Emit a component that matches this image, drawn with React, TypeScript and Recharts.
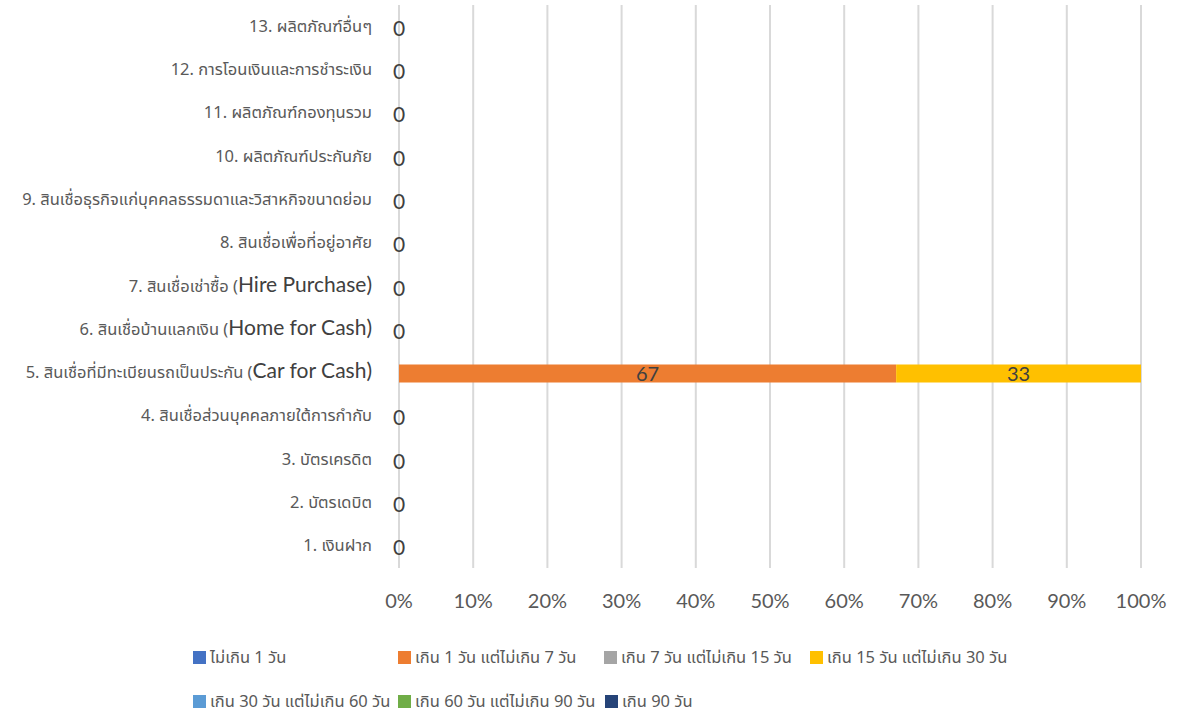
import { BarChart, Bar, XAxis, YAxis, CartesianGrid, LabelList } from 'recharts';

// categories, bottom (1) to top (13)
const CATEGORIES = [
  '1. เงินฝาก',
  '2. บัตรเดบิต',
  '3. บัตรเครดิต',
  '4. สินเชื่อส่วนบุคคลภายใต้การกำกับ',
  '5. สินเชื่อที่มีทะเบียนรถเป็นประกัน (Car for Cash)',
  '6. สินเชื่อบ้านแลกเงิน (Home for Cash)',
  '7. สินเชื่อเช่าซื้อ (Hire Purchase)',
  '8. สินเชื่อเพื่อที่อยู่อาศัย',
  '9. สินเชื่อธุรกิจแก่บุคคลธรรมดาและวิสาหกิจขนาดย่อม',
  '10. ผลิตภัณฑ์ประกันภัย',
  '11. ผลิตภัณฑ์กองทุนรวม',
  '12. การโอนเงินและการชำระเงิน',
  '13. ผลิตภัณฑ์อื่นๆ',
];

const SERIES_NAMES = [
  'ไม่เกิน 1 วัน',
  'เกิน 1 วัน แต่ไม่เกิน 7 วัน',
  'เกิน 7 วัน แต่ไม่เกิน 15 วัน',
  'เกิน 15 วัน แต่ไม่เกิน 30 วัน',
  'เกิน 30 วัน แต่ไม่เกิน 60 วัน',
  'เกิน 60 วัน แต่ไม่เกิน 90 วัน',
  'เกิน 90 วัน',
];

const S1 = [0, 0, 0, 0, 0, 0, 0, 0, 0, 0, 0, 0, 0];
const S2 = [0, 0, 0, 0, 67, 0, 0, 0, 0, 0, 0, 0, 0];
const S3 = [0, 0, 0, 0, 0, 0, 0, 0, 0, 0, 0, 0, 0];
const S4 = [0, 0, 0, 0, 33, 0, 0, 0, 0, 0, 0, 0, 0];
const S5 = [0, 0, 0, 0, 0, 0, 0, 0, 0, 0, 0, 0, 0];
const S6 = [0, 0, 0, 0, 0, 0, 0, 0, 0, 0, 0, 0, 0];
const S7 = [0, 0, 0, 0, 0, 0, 0, 0, 0, 0, 0, 0, 0];

const SERIES_VALUES = [S1, S2, S3, S4, S5, S6, S7];
const COLORS = ['#4472c4', '#ed7d31', '#a5a5a5', '#ffc000', '#5b9bd5', '#70ad47', '#264478'];
const X_TICKS = [0, 0.1, 0.2, 0.3, 0.4, 0.5, 0.6, 0.7, 0.8, 0.9, 1];

const data = CATEGORIES.map((name, i) => {
  const row: Record<string, any> = { name };
  SERIES_VALUES.forEach((vals, s) => {
    row[`s${s}`] = vals[i];
  });
  row.total = SERIES_VALUES.reduce((sum, vals) => sum + vals[i], 0);
  return row;
});

const totalByName: Record<string, number> = {};
data.forEach((d) => {
  totalByName[d.name] = d.total;
});

const THAI_FONT = '"Noto Sans Thai", "Leelawadee UI", Tahoma, "DejaVu Sans", sans-serif';
const LATIN_FONT = 'Lato, "Open Sans", sans-serif';
const TICK_GAP = 21;

// category label + the "0" data label that Excel draws for empty rows
function CategoryTick({ x, y, payload }: any) {
  const label: string = payload.value;
  const idx = label.indexOf('(');
  const thai = idx >= 0 ? label.slice(0, idx + 1) : label;
  const latin = idx >= 0 ? label.slice(idx + 1) : '';
  return (
    <g>
      <text x={x} y={y} dy={5} textAnchor="end" fill="#595959">
        <tspan fontFamily={THAI_FONT} fontSize={16.5}>{thai}</tspan>
        {latin && (
          <tspan fontFamily={LATIN_FONT} fontSize={21} fill="#404040">{latin}</tspan>
        )}
      </text>
      {totalByName[label] === 0 && (
        <text
          x={x + TICK_GAP + 6}
          y={y}
          dy={9}
          textAnchor="middle"
          fontFamily={LATIN_FONT}
          fontSize={21}
          fill="#404040"
        >
          0
        </text>
      )}
    </g>
  );
}

function Legendish() {
  const rows = [SERIES_NAMES.slice(0, 4), SERIES_NAMES.slice(4)];
  const lefts = [
    [193, 398, 604, 810],
    [193, 398, 605],
  ];
  return (
    <>
      {rows.map((row, r) =>
        row.map((name, i) => {
          const s = r * 4 + i;
          return (
            <div
              key={name}
              style={{
                position: 'absolute',
                left: lefts[r][i],
                top: 645 + r * 44,
                display: 'flex',
                alignItems: 'center',
                fontFamily: THAI_FONT,
                fontSize: 16.5,
                color: '#595959',
                whiteSpace: 'nowrap',
              }}
            >
              <span style={{ width: 13, height: 13, background: COLORS[s], marginRight: 4, display: 'inline-block' }} />
              {name}
            </div>
          );
        }),
      )}
    </>
  );
}

export default function App() {
  return (
    <div style={{ position: 'absolute', left: 0, top: 0, width: 1179, height: 714, background: '#fff' }}>
      <BarChart
        width={1179}
        height={714}
        data={data}
        layout="vertical"
        stackOffset="expand"
        margin={{ top: 5, right: 38, left: 0, bottom: 116 }}
        barSize={18}
      >
        <CartesianGrid horizontal={false} stroke="#d9d9d9" strokeWidth={2} />
        <XAxis
          type="number"
          domain={[0, 1]}
          ticks={X_TICKS}
          tickFormatter={(v) => `${Math.round(v * 100)}%`}
          axisLine={false}
          tickLine={false}
          height={30}
          tick={{ fill: '#595959', fontSize: 20, fontFamily: LATIN_FONT, dy: 18 }}
          interval={0}
        />
        <YAxis
          type="category"
          dataKey="name"
          reversed
          width={399}
          axisLine={false}
          tickLine={false}
          tick={<CategoryTick />}
          tickMargin={TICK_GAP}
          interval={0}
        />
        {SERIES_NAMES.map((name, s) => (
          <Bar key={name} dataKey={`s${s}`} name={name} stackId="a" fill={COLORS[s]} isAnimationActive={false}>
            <LabelList
              dataKey={`s${s}`}
              position="center"
              formatter={(v: any) => (v > 0 ? v : '')}
              fill="#404040"
              fontSize={20}
              fontFamily={LATIN_FONT}
            />
          </Bar>
        ))}
      </BarChart>
      <Legendish />
    </div>
  );
}
